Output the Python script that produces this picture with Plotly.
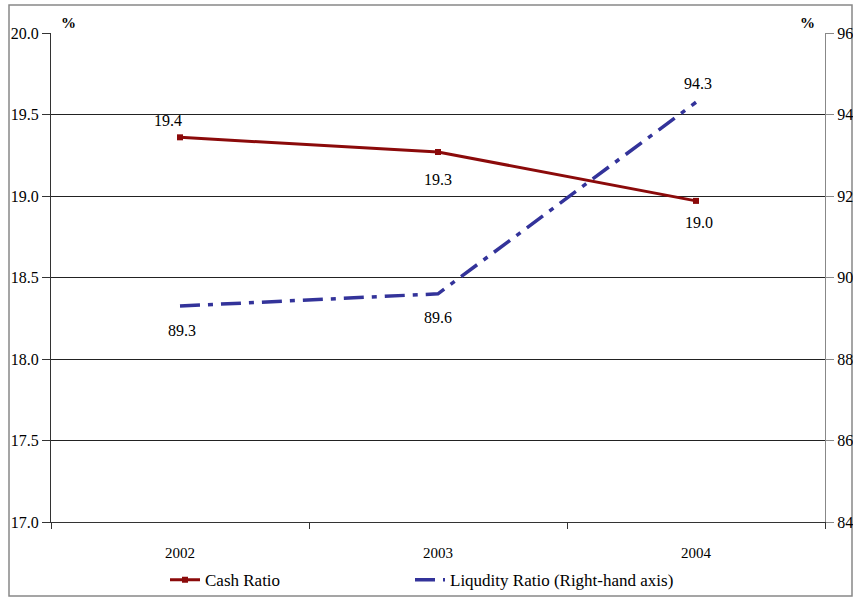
import plotly.graph_objects as go

years = ["2002", "2003", "2004"]
cash_ratio = [19.36, 19.27, 18.97]
liquidity_ratio = [89.3, 89.6, 94.3]

# label offsets in pixels (dx, dy) relative to each point
cash_offsets = [(-12, -17), (0, 28), (3, 22)]
liq_offsets = [(2, 24), (0, 24), (2, -19)]

FONT = "'Liberation Serif', 'Times New Roman', Times, 'DejaVu Serif', serif"

fig = go.Figure()

fig.add_trace(go.Scatter(
    x=years, y=cash_ratio, name="Cash Ratio",
    mode="lines+markers", legend="legend",
    line=dict(color="#8B0A0A", width=3),
    marker=dict(symbol="square", size=6, color="#8B0A0A"),
))

fig.add_trace(go.Scatter(
    x=years, y=liquidity_ratio, name="Liqudity Ratio (Right-hand axis)",
    mode="lines", yaxis="y2", legend="legend2",
    line=dict(color="#33339A", width=3.5, dash="20px,8px,5px,8px"),
))

annotations = []
# category axis: annotations are placed by category index
for i, (v, (dx, dy)) in enumerate(zip(cash_ratio, cash_offsets)):
    annotations.append(dict(x=i, y=v, xref="x", yref="y", text=f"{v:.1f}",
                            showarrow=False, xshift=dx, yshift=-dy,
                            font=dict(family=FONT, size=16, color="black")))
for i, (v, (dx, dy)) in enumerate(zip(liquidity_ratio, liq_offsets)):
    annotations.append(dict(x=i, y=v, xref="x", yref="y2", text=f"{v:.1f}",
                            showarrow=False, xshift=dx, yshift=-dy,
                            font=dict(family=FONT, size=16, color="black")))
annotations += [
    dict(text="<b>%</b>", xref="paper", yref="paper", x=0.01, y=1.0, xanchor="left",
         yanchor="bottom", showarrow=False, font=dict(family=FONT, size=15, color="black")),
    dict(text="<b>%</b>", xref="paper", yref="paper", x=0.99, y=1.0, xanchor="right",
         yanchor="bottom", showarrow=False, font=dict(family=FONT, size=15, color="black")),
]

legend_style = dict(orientation="h", y=-0.119, yanchor="middle", xanchor="left",
                    font=dict(family=FONT, size=17), itemwidth=30,
                    bgcolor="rgba(0,0,0,0)")

fig.update_layout(
    width=853, height=599,
    margin=dict(l=51, r=28, t=33, b=77, autoexpand=False),
    paper_bgcolor="white", plot_bgcolor="white",
    font=dict(family=FONT, size=16, color="black"),
    showlegend=True,
    legend=dict(x=(165 - 51) / 774, **legend_style),
    legend2=dict(x=(410 - 51) / 774, **legend_style),
    xaxis=dict(type="category", range=[-0.5, 2.5], showgrid=False, automargin=False,
               showline=True, linecolor="#333", linewidth=1,
               ticks="outside", tickson="boundaries", ticklen=6, tickcolor="#333",
               ticklabelstandoff=17, tickfont=dict(family=FONT, size=15)),
    yaxis=dict(range=[17, 20], dtick=0.5, tickformat=".1f", automargin=False,
               showgrid=True, gridcolor="#222", gridwidth=1, zeroline=False,
               showline=True, linecolor="#333", linewidth=1,
               ticks="outside", ticklen=8, tickcolor="#333",
               tickfont=dict(family=FONT, size=16)),
    yaxis2=dict(range=[84, 96], dtick=2, overlaying="y", side="right", automargin=False,
                showgrid=False, zeroline=False,
                showline=True, linecolor="#888", linewidth=1,
                ticks="outside", ticklen=8, tickcolor="#888",
                tickfont=dict(family=FONT, size=16)),
    annotations=annotations,
    shapes=[
        dict(type="rect", xref="paper", yref="paper",
             x0=(9 - 51) / 774, x1=(852 - 51) / 774,
             y0=(522 - 596) / 489, y1=(522 - 5) / 489,
             line=dict(color="#888", width=1.5), layer="below"),
    ],
)

fig.write_html("out.html")
